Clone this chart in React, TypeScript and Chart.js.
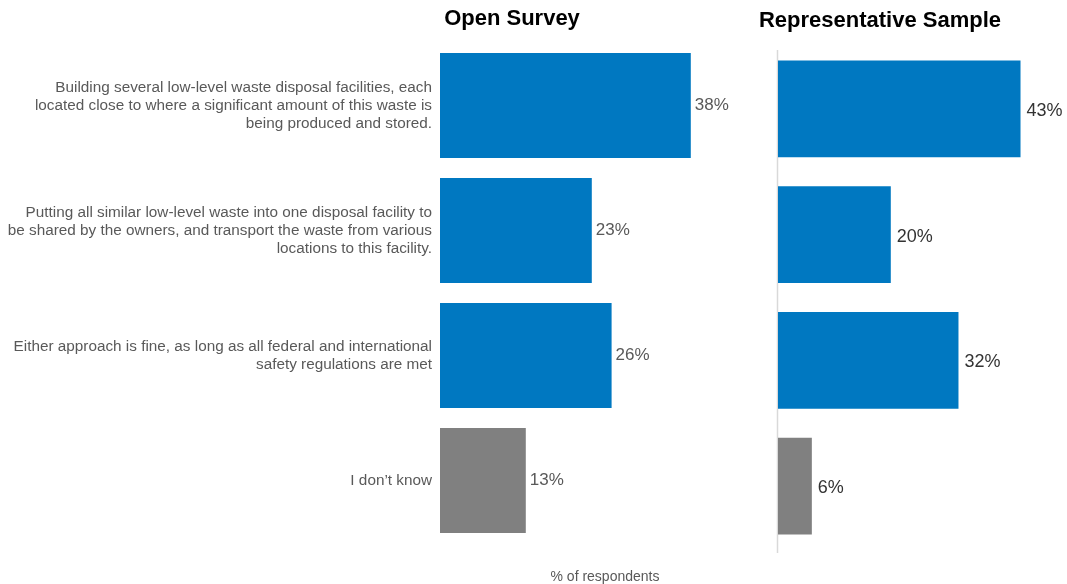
import React, { useEffect, useRef } from "react";
import { Chart, registerables } from "chart.js";

Chart.register(...registerables);

const categories: string[][] = [
  [
    "Building several low-level waste disposal facilities, each",
    "located close to where a significant amount of this waste is",
    "being produced and stored.",
  ],
  [
    "Putting all similar low-level waste into one disposal facility to",
    "be shared by the owners, and transport the waste from various",
    "locations to this facility.",
  ],
  [
    "Either approach is fine, as long as all federal and international",
    "safety regulations are met",
  ],
  ["I don\u2019t know"],
];
const openSurvey: number[] = [38, 23, 26, 13];
const representative: number[] = [43, 20, 32, 6];
const barColors: string[] = ["#0078C1", "#0078C1", "#0078C1", "#808080"];
const titleLeft = "Open Survey";
const titleRight = "Representative Sample";
const xAxisTitle = "% of respondents";

const FONT = "'Liberation Sans', Arial, sans-serif";
const RIGHT_LEFT = 730;

function makeLabelPlugin(color: string, size: number, gap: number, dy: number) {
  return {
    id: "valueLabels",
    afterDatasetsDraw(chart: any) {
      const ctx = chart.ctx;
      const meta = chart.getDatasetMeta(0);
      const data = chart.data.datasets[0].data as number[];
      ctx.save();
      ctx.font = `${size}px ${FONT}`;
      ctx.fillStyle = color;
      ctx.textAlign = "left";
      ctx.textBaseline = "middle";
      meta.data.forEach((el: any, i: number) => {
        ctx.fillText(`${data[i]}%`, el.x + gap, el.y + dy);
      });
      ctx.restore();
    },
  };
}

function makeTextPlugin(
  id: string,
  draw: (chart: any, ctx: CanvasRenderingContext2D) => void
) {
  return {
    id,
    afterDraw(chart: any) {
      const ctx = chart.ctx;
      ctx.save();
      draw(chart, ctx);
      ctx.restore();
    },
  };
}

export default function App() {
  const leftRef = useRef<HTMLCanvasElement>(null);
  const rightRef = useRef<HTMLCanvasElement>(null);

  useEffect(() => {
    const left = new Chart(leftRef.current!, {
      type: "bar",
      data: {
        labels: categories as any,
        datasets: [
          {
            data: openSurvey,
            backgroundColor: barColors,
            categoryPercentage: 1,
            barPercentage: 0.84,
          },
        ],
      },
      options: {
        indexAxis: "y",
        animation: false,
        responsive: false,
        maintainAspectRatio: false,
        layout: { padding: { top: 43, bottom: 41, left: 0, right: 0 } },
        plugins: {
          legend: { display: false },
          tooltip: { enabled: false },
          title: { display: false },
        },
        scales: {
          x: { display: false, min: 0, max: 50 },
          y: {
            grid: { display: false, drawTicks: false },
            border: { display: false },
            ticks: {
              padding: 8,
              color: "#595959",
              font: { family: FONT, size: 15.3, lineHeight: 1.18 },
              autoSkip: false,
            },
            afterFit(scale: any) {
              scale.width = 440;
            },
          },
        },
      },
      plugins: [
        makeLabelPlugin("#595959", 17, 4, 0),
        makeTextPlugin("texts", (chart, ctx) => {
          ctx.fillStyle = "#000";
          ctx.font = `bold 22px ${FONT}`;
          ctx.textAlign = "center";
          ctx.textBaseline = "middle";
          ctx.fillText(titleLeft, 512, 19);
          ctx.fillStyle = "#595959";
          ctx.font = `14px ${FONT}`;
          const ca = chart.chartArea;
          ctx.fillText(xAxisTitle, (ca.left + ca.right) / 2, 577);
        }),
      ],
    } as any);

    const right = new Chart(rightRef.current!, {
      type: "bar",
      data: {
        labels: categories.map((c) => c.join(" ")),
        datasets: [
          {
            data: representative,
            backgroundColor: barColors,
            categoryPercentage: 1,
            barPercentage: 0.77,
          },
        ],
      },
      options: {
        indexAxis: "y",
        animation: false,
        responsive: false,
        maintainAspectRatio: false,
        layout: {
          padding: { top: 46, bottom: 35, left: 778 - RIGHT_LEFT, right: 7 },
        },
        plugins: {
          legend: { display: false },
          tooltip: { enabled: false },
          title: { display: false },
        },
        scales: {
          x: { display: false, min: 0, max: 50 },
          y: { display: false },
        },
      },
      plugins: [
        {
          id: "axisLine",
          beforeDatasetsDraw(chart: any) {
            const ctx = chart.ctx;
            const x = chart.chartArea.left;
            ctx.save();
            ctx.strokeStyle = "#d9d9d9";
            ctx.lineWidth = 1.5;
            ctx.beginPath();
            ctx.moveTo(x - 0.5, 50);
            ctx.lineTo(x - 0.5, 553);
            ctx.stroke();
            ctx.restore();
          },
        },
        makeLabelPlugin("#333333", 18, 6, 2),
        makeTextPlugin("texts", (chart, ctx) => {
          ctx.fillStyle = "#000";
          ctx.font = `bold 22px ${FONT}`;
          ctx.textAlign = "center";
          ctx.textBaseline = "middle";
          ctx.fillText(titleRight, 880 - RIGHT_LEFT, 21);
        }),
      ],
    } as any);

    return () => {
      left.destroy();
      right.destroy();
    };
  }, []);

  return (
    <div
      style={{
        position: "fixed",
        left: 0,
        top: 0,
        width: 1067,
        height: 584,
        background: "#fff",
      }}
    >
      <canvas
        ref={leftRef}
        width={770}
        height={584}
        style={{ position: "absolute", left: 0, top: 0, width: 770, height: 584 }}
      />
      <canvas
        ref={rightRef}
        width={1067 - RIGHT_LEFT}
        height={584}
        style={{
          position: "absolute",
          left: RIGHT_LEFT,
          top: 0,
          width: 1067 - RIGHT_LEFT,
          height: 584,
        }}
      />
    </div>
  );
}
